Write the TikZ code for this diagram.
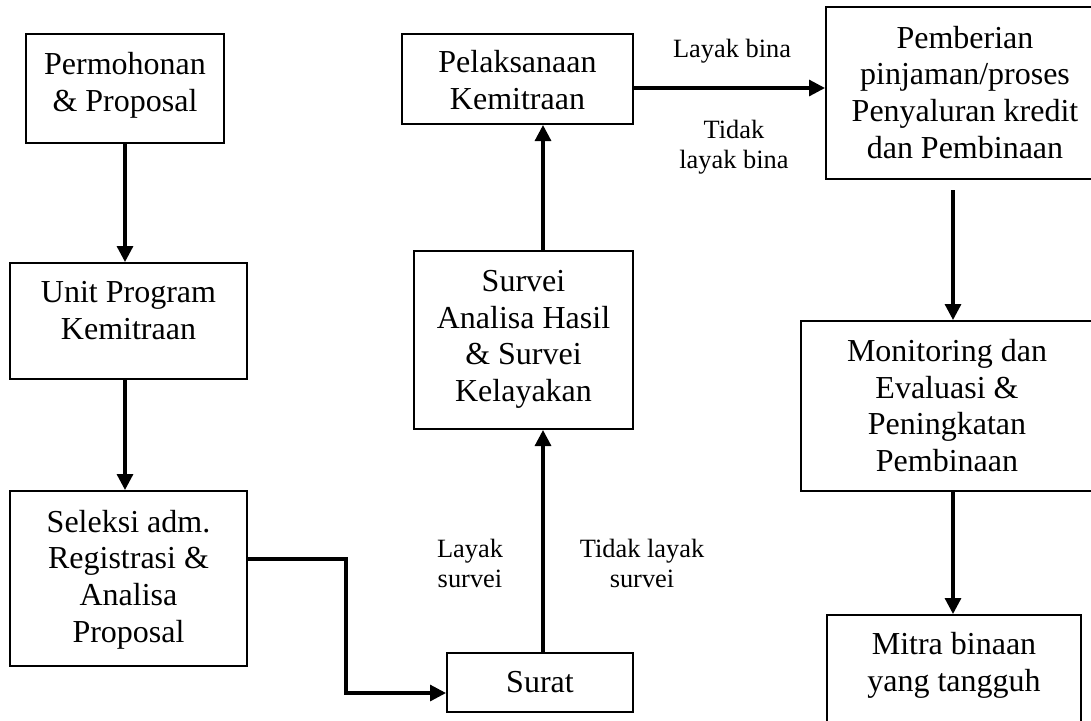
\documentclass[tikz,border=0pt]{standalone}
\usepackage{fontspec}
\setmainfont{Liberation Serif}
\usetikzlibrary{arrows.meta,calc}
\newcommand{\lift}[2]{\raisebox{#1}[\height][\depth]{\begin{tabular}{@{}c@{}}#2\end{tabular}}}
\newcommand{\lbltext}[1]{\begin{tabular}[t]{@{}c@{}}#1\end{tabular}}
\tikzset{
  box/.style={draw, line width=1pt, inner sep=0pt, font=\fontsize{16}{18.35}\selectfont},
  lbl/.style={inner sep=0pt, anchor=base, font=\fontsize{13.2}{15}\selectfont},
  arr/.style={line width=1.6pt, -{Triangle[length=8pt,width=8pt]}},
  plain/.style={line width=1.6pt}
}
\begin{document}
\begin{tikzpicture}[x=0.5pt,y=-0.5pt]
\useasboundingbox (0,0) rectangle (1091,720);
\clip (0,0) rectangle (1091,720);
% boxes
\node[box, minimum width=99pt, minimum height=54.5pt] (p1) at (125,88.5) {\lift{1.4pt}{Permohonan\\\& Proposal}};
\node[box, minimum width=118.5pt, minimum height=58pt] (unit) at (128.5,321) {\lift{3.65pt}{Unit Program\\Kemitraan}};
\node[box, minimum width=118.5pt, minimum height=87.5pt] (sel) at (128.5,578.5) {\lift{-0.6pt}{Seleksi adm.\\Registrasi \&\\Analisa\\Proposal}};
\node[box, minimum width=93pt, minimum height=29.5pt] (surat) at (540,682.5) {\lift{-1.35pt}{Surat}};
\node[box, minimum width=109.5pt, minimum height=89pt] (surv) at (523.5,340) {\lift{0.4pt}{Survei\\Analisa Hasil\\\& Survei\\Kelayakan}};
\node[box, minimum width=115.5pt, minimum height=45pt] (pel) at (517.5,79) {\lift{-2.35pt}{Pelaksanaan\\Kemitraan}};
\node[box, minimum width=139pt, minimum height=86pt] (pemb) at (965,93) {\lift{-1.35pt}{Pemberian\\pinjaman/proses\\Penyaluran kredit\\dan Pembinaan}};
\node[box, minimum width=146pt, minimum height=85pt] (mon) at (947,406) {\lift{-1.6pt}{Monitoring dan\\Evaluasi \&\\Peningkatan\\Pembinaan}};
\node[box, minimum width=127pt, minimum height=60pt] (mitra) at (954,675) {\lift{4.65pt}{Mitra binaan\\yang tangguh}};
% labels
\node[lbl] (lb1) at (732,57) {\lbltext{Layak bina}};
\node[lbl] (lb2) at (734,138) {\lbltext{Tidak\\layak bina}};
\node[lbl] (ls1) at (470,557) {\lbltext{Layak\\survei}};
\node[lbl] (ls2) at (642,557) {\lbltext{Tidak layak\\survei}};
% connectors
\draw[arr] (p1.south) -- (p1.south |- unit.north);
\draw[arr] (p1.south |- unit.south) -- (p1.south |- sel.north);
\coordinate (s0) at ($(sel.east)+(0,-19.5)$);
\coordinate (s1) at ($(surat.west)+(-100,10.5)$);
\coordinate (s2) at ($(surat.west)+(0,10.5)$);
\draw[arr] (s0) -| (s1) -- (s2);
\coordinate (u0) at ($(surat.north)+(3,0)$);
\draw[arr] (u0) -- (u0 |- surv.south);
\coordinate (v0) at ($(surv.north)+(19.5,0)$);
\draw[arr] (v0) -- (v0 |- pel.south);
\coordinate (w0) at ($(pel.east)+(0,9)$);
\draw[arr] (w0) -- (w0 -| pemb.west);
\coordinate (m0) at ($(pemb.south)+(-12,10)$);
\draw[arr] (m0) -- (m0 |- mon.north);
\coordinate (n0) at ($(mon.south)+(6,0)$);
\draw[arr] (n0) -- (n0 |- mitra.north);
\end{tikzpicture}
\end{document}
